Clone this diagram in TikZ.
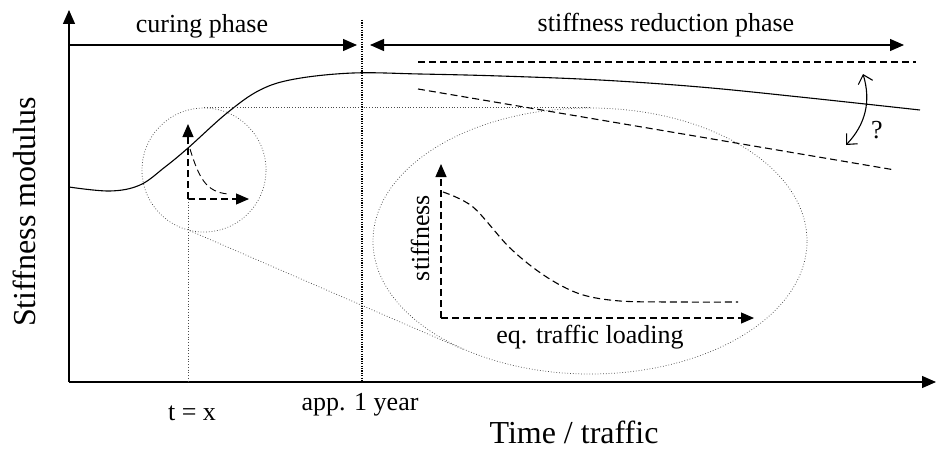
\documentclass[tikz,border=0pt]{standalone}
\usepackage{fontspec}
\setmainfont{Liberation Serif}
\usetikzlibrary{arrows.meta,shapes.geometric}
\begin{document}
\begin{tikzpicture}[x=1pt,y=-1pt,
  axis/.style={line width=1.3pt,-{Triangle[length=14pt,width=12pt]}},
  parr/.style={line width=1.3pt,-{Triangle[length=14pt,width=12pt]}},
  darr/.style={line width=1.3pt,{Triangle[length=14pt,width=12pt]}-{Triangle[length=14pt,width=12pt]}},
  dashline/.style={line width=1.1pt,dash pattern=on 7pt off 4pt},
  dasharr/.style={dashline,-{Triangle[length=13pt,width=11pt]}},
  thindot/.style={line width=0.75pt,dotted,black!70},
  divider/.style={line width=1.6pt,dash pattern=on 1.2pt off 1.2pt},
  barb/.style={line width=1.1pt,{Straight Barb[length=8pt,width=15pt]}-{Straight Barb[length=8pt,width=15pt]}},
  lbl/.style={font=\fontsize{26}{30}\selectfont,inner sep=0pt,anchor=base},
  biglbl/.style={font=\fontsize{32}{36}\selectfont,inner sep=0pt,anchor=base},
]
\useasboundingbox (0,0) rectangle (936,452);

% axes
\coordinate (O) at (69,382);
\coordinate (ytop) at (69,10);
\coordinate (xend) at (936,382);
\draw[axis] (O) -- (ytop);
\draw[axis] (O) -- (xend);

% phase arrows and divider
\coordinate (cs) at (70,45);
\coordinate (ce) at (357,45);
\coordinate (rs) at (370,45);
\coordinate (re) at (904,45);
\draw[parr] (cs) -- (ce);
\draw[darr] (rs) -- (re);
\coordinate (dtop) at (362,20);
\coordinate (dbot) at (362,382);
\draw[divider] (dtop) -- (dbot);

% main curve
\draw[line width=1.1pt] plot[smooth,tension=0.6] coordinates {
  (69,187) (110,191) (140,185) (165,167) (188,148) (227,113) (260,90) (295,79)
  (353,73) (420,74) (500,76) (600,80) (700,87) (800,97) (920,110)};

% future trends
\coordinate (u1) at (418,62);
\coordinate (u2) at (916,62);
\coordinate (l1) at (418,89);
\coordinate (l2) at (895,170);
\draw[dashline] (u1) -- (u2);
\draw[dashline] (l1) -- (l2);

% uncertainty arrow
\coordinate (qa) at (863,74);
\coordinate (qb) at (846,145);
\draw[barb] (qa) to[bend left=30] (qb);
\node[lbl] (q) at (877,138) {?};

% zoom circle and ellipse
\node[draw,thindot,circle,minimum size=124pt,inner sep=0pt] (sc) at (204,170) {};
\node[draw,thindot,ellipse,minimum width=434pt,minimum height=266pt,inner sep=0pt] (big) at (590,241) {};
\draw[thindot] (sc.north) -- (big.north);
\draw[thindot] (sc.-103) -- (big.221);

% small axes inside circle
\coordinate (so) at (188,199);
\coordinate (sy) at (188,124);
\coordinate (sx) at (249,199);
\draw[dasharr] (so) -- (sy);
\draw[dasharr] (so) -- (sx);
\draw[dashline,line width=0.9pt] (190,149) .. controls (199,178) and (206,192) .. (228,194);
\coordinate (tbot) at (188,382);
\draw[thindot] (so) -- (tbot);

% big axes inside ellipse
\coordinate (bo) at (441,318);
\coordinate (by) at (441,164);
\coordinate (bx) at (754,318);
\draw[dasharr] (bo) -- (by);
\draw[dasharr] (bo) -- (bx);
\draw[dashline] plot[smooth,tension=0.55] coordinates {
  (443,192) (473,207) (510,248) (545,276) (580,294) (620,301) (680,302) (738,302)};

% labels
\node[lbl] (curing) at (202,33) {curing phase};
\node[lbl] (reduction) at (666,32) {stiffness reduction phase};
\node[lbl] (tx) at (192,420) {t = x};
\node[lbl] (year) at (360,410) {app. 1 year};
\node[biglbl] (xlabel) at (574,443) {Time / traffic};
\node[biglbl,rotate=90] (ylabel) at (35,212) {Stiffness modulus};
\node[lbl,rotate=90] (stiff) at (429,238) {stiffness};
\node[lbl] (eq) at (590,343) {eq. traffic loading};
\end{tikzpicture}
\end{document}
